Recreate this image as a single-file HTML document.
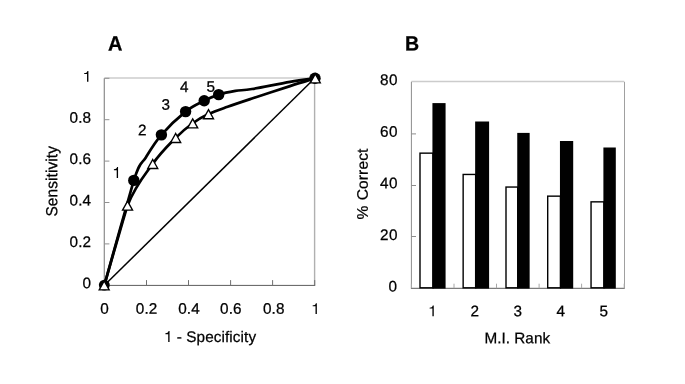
<!DOCTYPE html>
<html><head><meta charset="utf-8"><title>Figure</title>
<style>html,body{margin:0;padding:0;background:#fff;}svg{display:block;will-change:transform;opacity:0.999;}text{font-family:"Liberation Sans",sans-serif;fill:#000;stroke:#000;stroke-width:0.25px;letter-spacing:0.1px;}</style>
</head><body>
<svg width="685" height="384" viewBox="0 0 685 384">
<rect width="685" height="384" fill="#fff"/>
<g fill="none" stroke-width="1">
<path d="M104.4,78.0 H314.7" stroke="#cccccc" stroke-width="1.5"/>
<path d="M314.6,78.3 V285.3" stroke="#b0b0b0" stroke-width="1.4"/>
<path d="M104.3,78.3 V285.3" stroke="#8c8c8c" stroke-width="1.2"/>
<path d="M103.9,285.40 H315.2" stroke="#5c5c5c"/>
<path d="M104.4,285.3 h5" stroke="#909090"/>
<path d="M104.4,285.3 v-5.2" stroke="#707070"/>
<path d="M104.4,243.9 h5" stroke="#909090"/>
<path d="M146.5,285.3 v-5.2" stroke="#707070"/>
<path d="M104.4,202.5 h5" stroke="#909090"/>
<path d="M188.5,285.3 v-5.2" stroke="#707070"/>
<path d="M104.4,161.1 h5" stroke="#909090"/>
<path d="M230.6,285.3 v-5.2" stroke="#707070"/>
<path d="M104.4,119.7 h5" stroke="#909090"/>
<path d="M272.6,285.3 v-5.2" stroke="#707070"/>
<path d="M104.4,78.3 h5" stroke="#909090"/>
<path d="M314.7,285.3 v-5.2" stroke="#707070"/>
</g>
<path d="M104.4,285.3 L314.7,78.3" stroke="#000" stroke-width="1.5" fill="none"/>
<path d="M104.30,285.30 C104.92,283.17 126.26,208.69 127.55,205.45 C135.62,185.21 144.72,175.12 152.75,163.85 C160.78,152.58 169.04,144.62 175.70,137.85 C182.36,131.08 187.23,127.22 192.70,123.25 C198.17,119.28 202.68,116.80 208.50,114.05 C214.32,111.30 220.35,109.34 227.60,106.75 C234.85,104.16 241.60,101.94 252.00,98.50 C262.40,95.06 279.50,89.47 290.00,86.10 C300.50,82.73 310.83,79.60 315.00,78.30" stroke="#000" stroke-width="2.7" fill="none" stroke-linejoin="round"/>
<path d="M104.30,285.30 C105.77,280.06 131.72,186.81 133.80,180.40 C140.75,159.05 141.40,164.79 146.00,157.20 C150.60,149.61 154.80,142.45 161.40,134.85 C168.00,127.25 178.47,117.27 185.60,111.60 C192.73,105.92 198.68,103.63 204.20,100.80 C209.72,97.97 213.50,96.25 218.70,94.60 C223.90,92.95 229.85,91.83 235.40,90.90 C240.95,89.97 242.90,90.52 252.00,89.00 C261.10,87.48 279.50,83.58 290.00,81.80 C300.50,80.02 310.83,78.88 315.00,78.30" stroke="#000" stroke-width="2.7" fill="none" stroke-linejoin="round"/>
<circle cx="104.30" cy="285.10" r="5.45" fill="#000"/>
<circle cx="133.80" cy="180.40" r="5.7" fill="#000"/>
<circle cx="161.40" cy="134.85" r="5.7" fill="#000"/>
<circle cx="185.60" cy="111.60" r="5.7" fill="#000"/>
<circle cx="204.20" cy="100.80" r="5.7" fill="#000"/>
<circle cx="218.70" cy="94.60" r="5.7" fill="#000"/>
<circle cx="315.00" cy="78.30" r="5.7" fill="#000"/>
<path d="M104.20,280.80 L109.20,289.80 L99.20,289.80 Z" fill="#fff" stroke="#000" stroke-width="1.35"/>
<path d="M127.55,201.10 L132.55,210.10 L122.55,210.10 Z" fill="#fff" stroke="#000" stroke-width="1.35"/>
<path d="M152.75,159.50 L157.75,168.50 L147.75,168.50 Z" fill="#fff" stroke="#000" stroke-width="1.35"/>
<path d="M175.70,133.50 L180.70,142.50 L170.70,142.50 Z" fill="#fff" stroke="#000" stroke-width="1.35"/>
<path d="M192.70,118.90 L197.70,127.90 L187.70,127.90 Z" fill="#fff" stroke="#000" stroke-width="1.35"/>
<path d="M208.50,109.70 L213.50,118.70 L203.50,118.70 Z" fill="#fff" stroke="#000" stroke-width="1.35"/>
<path d="M315.30,73.90 L320.30,82.90 L310.30,82.90 Z" fill="#fff" stroke="#000" stroke-width="1.35"/>
<text transform="translate(91.20,288.30) rotate(0.03)" font-size="15.3" text-anchor="end">0</text>
<text transform="translate(104.50,313.70) rotate(0.03)" font-size="15.3" text-anchor="middle">0</text>
<text transform="translate(91.20,246.90) rotate(0.03)" font-size="15.3" text-anchor="end">0.2</text>
<text transform="translate(146.60,313.70) rotate(0.03)" font-size="15.3" text-anchor="middle">0.2</text>
<text transform="translate(91.20,205.50) rotate(0.03)" font-size="15.3" text-anchor="end">0.4</text>
<text transform="translate(189.00,313.70) rotate(0.03)" font-size="15.3" text-anchor="middle">0.4</text>
<text transform="translate(91.20,164.10) rotate(0.03)" font-size="15.3" text-anchor="end">0.6</text>
<text transform="translate(230.90,313.70) rotate(0.03)" font-size="15.3" text-anchor="middle">0.6</text>
<text transform="translate(91.20,122.70) rotate(0.03)" font-size="15.3" text-anchor="end">0.8</text>
<text transform="translate(273.70,313.70) rotate(0.03)" font-size="15.3" text-anchor="middle">0.8</text>
<path d="M285 0V505H101V568C219 571 283 590 311 709H373V0Z" transform="translate(82.69,81.80) scale(0.01530,-0.01530)" fill="#000"/>
<path d="M285 0V505H101V568C219 571 283 590 311 709H373V0Z" transform="translate(311.15,314.00) scale(0.01530,-0.01530)" fill="#000"/>
<path d="M285 0V505H101V568C219 571 283 590 311 709H373V0Z" transform="translate(112.35,177.90) scale(0.01530,-0.01530)" fill="#000"/>
<text transform="translate(142.30,135.30) rotate(0.03)" font-size="15.3" text-anchor="middle">2</text>
<text transform="translate(165.80,109.70) rotate(0.03)" font-size="15.3" text-anchor="middle">3</text>
<text transform="translate(184.20,92.10) rotate(0.03)" font-size="15.3" text-anchor="middle">4</text>
<text transform="translate(210.80,91.80) rotate(0.03)" font-size="15.3" text-anchor="middle">5</text>
<path d="M285 0V505H101V568C219 571 283 590 311 709H373V0Z" transform="translate(163.85,341.90) scale(0.01530,-0.01530)" fill="#000"/>
<text transform="translate(172.36,341.90) rotate(0.03)" font-size="15.3" text-anchor="start" xml:space="preserve">&#160;- Specificity</text>
<text transform="translate(57.3,181.3) rotate(-90.03) scale(1.01,1.05)" font-size="15.3" text-anchor="middle">Sensitivity</text>
<text transform="translate(108.1,50.6) rotate(0.03) scale(1,1.03)" font-size="20" font-weight="bold">A</text>
<g fill="none" stroke-width="1">
<path d="M411.4,81.6 H624.2" stroke="#cccccc" stroke-width="1.5"/>
<path d="M624.5,81.8 V288.2" stroke="#a0a0a0"/>
<path d="M411.4,81.8 V288.2" stroke="#8c8c8c"/>
<path d="M410.9,288.30 H624.7" stroke="#5c5c5c"/>
<path d="M411.4,236.5 h4.6" stroke="#8c8c8c"/>
<path d="M411.4,185.5 h4.6" stroke="#8c8c8c"/>
<path d="M411.4,133.9 h4.6" stroke="#8c8c8c"/>
<path d="M411.4,288.2 v-4.5" stroke="#a8a8a8"/>
<path d="M454.0,288.2 v-4.5" stroke="#a8a8a8"/>
<path d="M496.5,288.2 v-4.5" stroke="#a8a8a8"/>
<path d="M539.1,288.2 v-4.5" stroke="#a8a8a8"/>
<path d="M581.6,288.2 v-4.5" stroke="#a8a8a8"/>
<path d="M624.2,288.2 v-4.5" stroke="#a8a8a8"/>
</g>
<rect x="420.00" y="153.15" width="12.93" height="134.65" fill="#fff" stroke="#000" stroke-width="1.4"/>
<rect x="432.43" y="103.10" width="13.15" height="185.50" fill="#000"/>
<path d="M285 0V505H101V568C219 571 283 590 311 709H373V0Z" transform="translate(428.05,316.35) scale(0.01530,-0.01530)" fill="#000"/>
<rect x="463.15" y="174.45" width="12.50" height="113.35" fill="#fff" stroke="#000" stroke-width="1.4"/>
<rect x="475.15" y="121.50" width="13.95" height="167.10" fill="#000"/>
<text transform="translate(474.70,316.35) rotate(0.03)" font-size="15.3" text-anchor="middle">2</text>
<rect x="506.00" y="187.05" width="11.75" height="100.75" fill="#fff" stroke="#000" stroke-width="1.4"/>
<rect x="517.25" y="132.90" width="12.40" height="155.70" fill="#000"/>
<text transform="translate(517.70,316.35) rotate(0.03)" font-size="15.3" text-anchor="middle">3</text>
<rect x="547.70" y="196.15" width="12.75" height="91.65" fill="#fff" stroke="#000" stroke-width="1.4"/>
<rect x="559.95" y="141.00" width="13.25" height="147.60" fill="#000"/>
<text transform="translate(560.70,316.35) rotate(0.03)" font-size="15.3" text-anchor="middle">4</text>
<rect x="591.05" y="201.85" width="12.85" height="85.95" fill="#fff" stroke="#000" stroke-width="1.4"/>
<rect x="603.40" y="147.50" width="12.40" height="141.10" fill="#000"/>
<text transform="translate(603.70,316.35) rotate(0.03)" font-size="15.3" text-anchor="middle">5</text>
<text transform="translate(397.50,291.50) rotate(0.03)" font-size="15.3" text-anchor="end" style="letter-spacing:0.6px">0</text>
<text transform="translate(398.10,239.90) rotate(0.03)" font-size="15.3" text-anchor="end" style="letter-spacing:0.6px">20</text>
<text transform="translate(398.10,188.30) rotate(0.03)" font-size="15.3" text-anchor="end" style="letter-spacing:0.6px">40</text>
<text transform="translate(398.10,136.70) rotate(0.03)" font-size="15.3" text-anchor="end" style="letter-spacing:0.6px">60</text>
<text transform="translate(398.10,85.10) rotate(0.03)" font-size="15.3" text-anchor="end" style="letter-spacing:0.6px">80</text>
<text transform="translate(517.30,343.30) rotate(0.03)" font-size="15.3" text-anchor="middle" style="letter-spacing:0">M.I. Rank</text>
<text transform="translate(367.7,184.0) rotate(-90.03) scale(1.018,1)" font-size="15.3" text-anchor="middle" style="word-spacing:0.8px">% Correct</text>
<text transform="translate(405.0,50.6) rotate(0.03) scale(0.98,1.03)" font-size="20" font-weight="bold">B</text>
</svg></body></html>
